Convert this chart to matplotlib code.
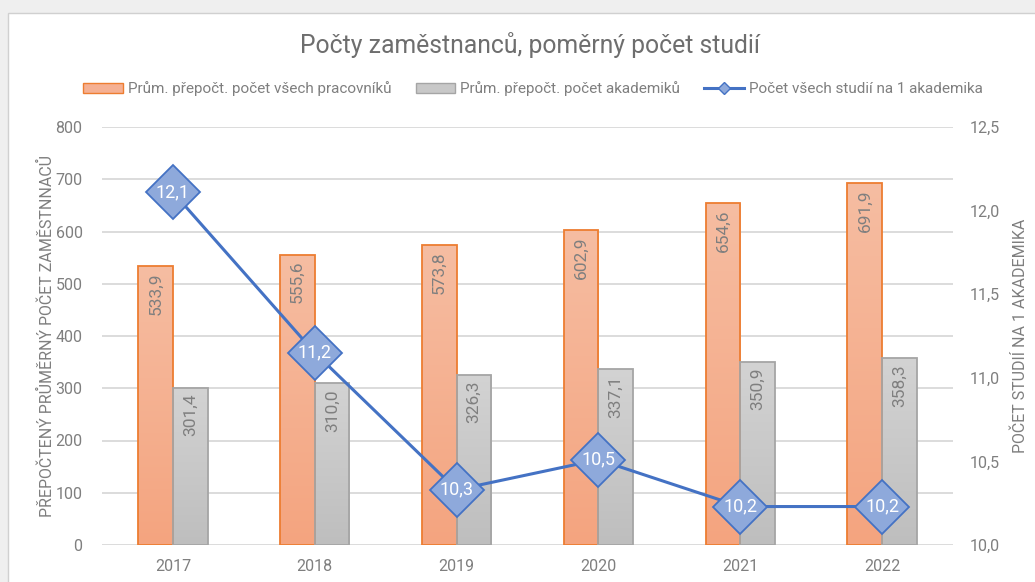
import matplotlib.pyplot as plt
import numpy as np
from matplotlib.patches import Rectangle
from matplotlib.lines import Line2D
from matplotlib.ticker import FuncFormatter, MultipleLocator

# Data
roky = ['2017', '2018', '2019', '2020', '2021', '2022']
pracovnici = [533.9, 555.6, 573.8, 602.9, 654.6, 691.9]
akademici = [301.4, 310.0, 326.3, 337.1, 350.9, 358.3]
studia = [12.11, 11.15, 10.33, 10.51, 10.23, 10.23]

TXT = '#7F7F7F'
plt.rcParams['font.family'] = ['Roboto', 'DejaVu Sans']


def carka(v, nd=1):
    return f"{v:.{nd}f}".replace('.', ',')


def gradient_bars(ax, bars, top, bottom):
    grad = np.linspace(0, 1, 256).reshape(-1, 1)
    c1 = np.array(plt.matplotlib.colors.to_rgb(top))
    c2 = np.array(plt.matplotlib.colors.to_rgb(bottom))
    img = c1 * (1 - grad[..., None]) + c2 * grad[..., None]
    for b in bars:
        x0, y0 = b.get_x(), b.get_y()
        w, h = b.get_width(), b.get_height()
        im = ax.imshow(img, extent=(x0, x0 + w, y0, y0 + h), origin='upper',
                       aspect='auto', zorder=1.5)
        im.set_clip_path(b)


fig = plt.figure(figsize=(10.35, 5.82), dpi=100)
fig.patch.set_facecolor('#EFEFEF')
# bily ramecek grafu
fig.patches.append(Rectangle((8 / 1035, -0.1), 1.1, 1 - 13 / 582 + 0.1,
                             transform=fig.transFigure, facecolor='white',
                             edgecolor='#D0D0D0', linewidth=1, zorder=-5))

ax = fig.add_axes([102 / 1035, 1 - 545 / 582, 851 / 1035, 418 / 582])
ax.set_facecolor('none')
x = np.arange(len(roky))
w = 0.245

b1 = ax.bar(x - w / 2, pracovnici, w, facecolor='none', edgecolor='#ED7D31',
            linewidth=1.3, zorder=2)
b2 = ax.bar(x + w / 2, akademici, w, facecolor='none', edgecolor='#A5A5A5',
            linewidth=1.3, zorder=2)
gradient_bars(ax, b1, '#F6BDA2', '#F4A47F')
gradient_bars(ax, b2, '#D3D3D3', '#BEBEBE')

for xi, v in zip(x, pracovnici):
    ax.text(xi - w / 2, v - 12, carka(v), rotation=90, ha='center', va='top',
            color=TXT, fontsize=12.5, zorder=3)
for xi, v in zip(x, akademici):
    ax.text(xi + w / 2, v - 12, carka(v), rotation=90, ha='center', va='top',
            color=TXT, fontsize=12.5, zorder=3)

ax.set_xlim(-0.5, len(roky) - 0.5)
ax.set_ylim(0, 800)
ax.yaxis.set_major_locator(MultipleLocator(100))
ax.grid(axis='y', color='#D9D9D9', linewidth=1.3, zorder=0)
ax.set_axisbelow(True)
ax.set_xticks(x)
ax.set_xticklabels(roky)
ax.tick_params(length=0, labelsize=11.5, labelcolor=TXT, pad=10)
ax.tick_params(axis='y', pad=14)
for s in ax.spines.values():
    s.set_visible(False)
ax.set_ylabel('PŘEPOČTENÝ PRŮMĚRNÝ POČET ZAMĚSTNNACŮ', color=TXT,
              fontsize=11.5, labelpad=0)

ax2 = ax.twinx()
ax2.set_ylim(10, 12.5)
ax2.yaxis.set_major_locator(MultipleLocator(0.5))
ax2.yaxis.set_major_formatter(FuncFormatter(lambda v, p: carka(v)))
ax2.tick_params(length=0, labelsize=11.5, labelcolor=TXT, pad=12)
for s in ax2.spines.values():
    s.set_visible(False)
ax2.plot(x, studia, color='#4472C4', linewidth=2.2, marker='D', markersize=28,
         markerfacecolor='#8EA9DB', markeredgecolor='#4472C4',
         markeredgewidth=1.3, zorder=4)
for xi, v in zip(x, studia):
    ax2.text(xi, v, carka(v), ha='center', va='center', color='white',
             fontsize=13, zorder=5)
ax2.set_ylabel('POČET STUDIÍ NA 1 AKADEMIKA', color=TXT, fontsize=11.5,
               labelpad=9)

fig.text(0.512, 1 - 45 / 582, 'Počty zaměstnanců, poměrný počet studií',
         ha='center', va='center', fontsize=17.8, color='#6E6E6E')

handles = [
    Rectangle((0, 0), 1, 1, facecolor='#F5B093', edgecolor='#ED7D31'),
    Rectangle((0, 0), 1, 1, facecolor='#C8C8C8', edgecolor='#A5A5A5'),
    Line2D([], [], color='#4472C4', linewidth=2.2, marker='D', markersize=6,
           markerfacecolor='#8EA9DB', markeredgecolor='#4472C4'),
]
labels = ['Prům. přepočt. počet všech pracovníků',
          'Prům. přepočt. počet akademiků',
          'Počet všech studií na 1 akademika']
fig.legend(handles, labels, loc='center', bbox_to_anchor=(0.515, 1 - 89 / 582),
           ncol=3, frameon=False, fontsize=11, labelcolor=TXT,
           handlelength=2.6, handleheight=0.6, handletextpad=0.3,
           columnspacing=1.6)

fig.savefig('out.png', dpi=100, facecolor=fig.get_facecolor())
